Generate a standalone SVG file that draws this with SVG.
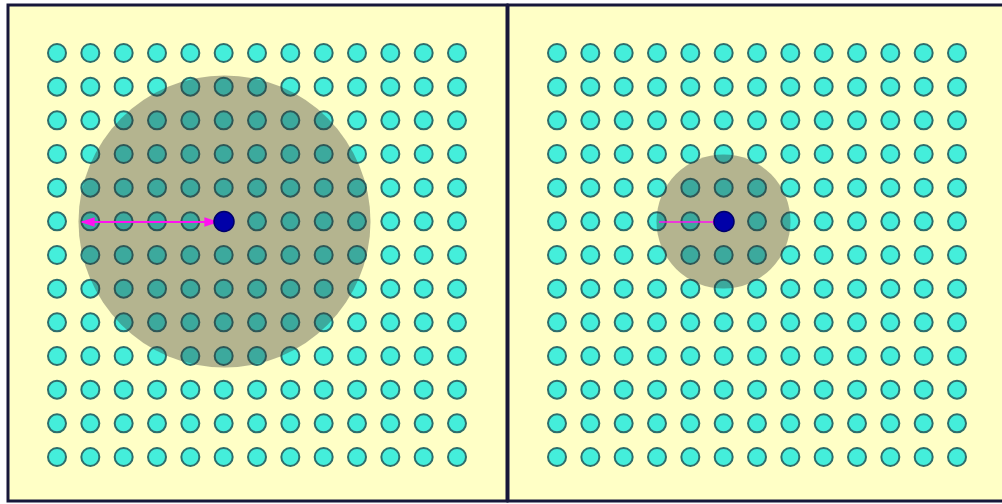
<svg xmlns="http://www.w3.org/2000/svg" xmlns:xlink="http://www.w3.org/1999/xlink" width="1002" height="504" viewBox="0 0 1002 504">
<style>
.bg{fill:#ffffc6}
.frame{fill:none;stroke:#17173a;stroke-width:3}
.dot{fill:#44eedb;stroke:#2e6e6c;stroke-width:2}
.shade{fill:#303030;fill-opacity:0.36}
.center{fill:#0000a8;stroke:#00006a;stroke-width:1.5}
.arrow{stroke:#ff10f0;fill:none}
</style>
<defs>
<marker id="ah" viewBox="0 0 10 10" refX="9" refY="5" markerWidth="7" markerHeight="7" orient="auto-start-reverse">
<path d="M0,1.6 L10,5 L0,8.4 z" fill="#ff10f0"/>
</marker>
<marker id="ahs" viewBox="0 0 10 10" refX="9" refY="5" markerWidth="6" markerHeight="6" orient="auto">
<path d="M0,1.5 L10,5 L0,8.5 z" fill="#ff10f0"/>
</marker>
<g id="row">
<circle class="dot" cx="57" cy="0" r="9"/>
<circle class="dot" cx="90.33" cy="0" r="9"/>
<circle class="dot" cx="123.67" cy="0" r="9"/>
<circle class="dot" cx="157" cy="0" r="9"/>
<circle class="dot" cx="190.33" cy="0" r="9"/>
<circle class="dot" cx="223.67" cy="0" r="9"/>
<circle class="dot" cx="257" cy="0" r="9"/>
<circle class="dot" cx="290.33" cy="0" r="9"/>
<circle class="dot" cx="323.67" cy="0" r="9"/>
<circle class="dot" cx="357" cy="0" r="9"/>
<circle class="dot" cx="390.33" cy="0" r="9"/>
<circle class="dot" cx="423.67" cy="0" r="9"/>
<circle class="dot" cx="457" cy="0" r="9"/>
</g>
<g id="grid">
<use xlink:href="#row" href="#row" y="53"/>
<use xlink:href="#row" href="#row" y="86.67"/>
<use xlink:href="#row" href="#row" y="120.33"/>
<use xlink:href="#row" href="#row" y="154"/>
<use xlink:href="#row" href="#row" y="187.67"/>
<use xlink:href="#row" href="#row" y="221.33"/>
<use xlink:href="#row" href="#row" y="255"/>
<use xlink:href="#row" href="#row" y="288.67"/>
<use xlink:href="#row" href="#row" y="322.33"/>
<use xlink:href="#row" href="#row" y="356"/>
<use xlink:href="#row" href="#row" y="389.67"/>
<use xlink:href="#row" href="#row" y="423.33"/>
<use xlink:href="#row" href="#row" y="457"/>
</g>
</defs>
<rect width="1002" height="504" fill="#ffffff"/>
<g id="panel-left">
<rect class="bg" x="8" y="5" width="499" height="496"/>
<use xlink:href="#grid" href="#grid"/>
<circle class="shade" cx="224.5" cy="221.5" r="146"/>
<line class="arrow" x1="217" y1="222" x2="82" y2="222" stroke-width="2" marker-start="url(#ah)" marker-end="url(#ah)"/>
<circle class="center" cx="224" cy="221.5" r="10"/>
</g>
<g id="panel-right">
<rect class="bg" x="507" y="5" width="500" height="496"/>
<use xlink:href="#grid" href="#grid" transform="translate(500,0)"/>
<circle class="shade" cx="723.5" cy="221.5" r="67"/>
<line class="arrow" x1="659" y1="222" x2="721" y2="222" stroke-width="1.5" marker-end="url(#ahs)"/>
<circle class="center" cx="724" cy="221.5" r="10"/>
</g>
<g id="frames">
<rect class="frame" x="8" y="5" width="499" height="496"/>
<rect class="frame" x="508" y="5" width="500" height="496"/>
</g>
</svg>
